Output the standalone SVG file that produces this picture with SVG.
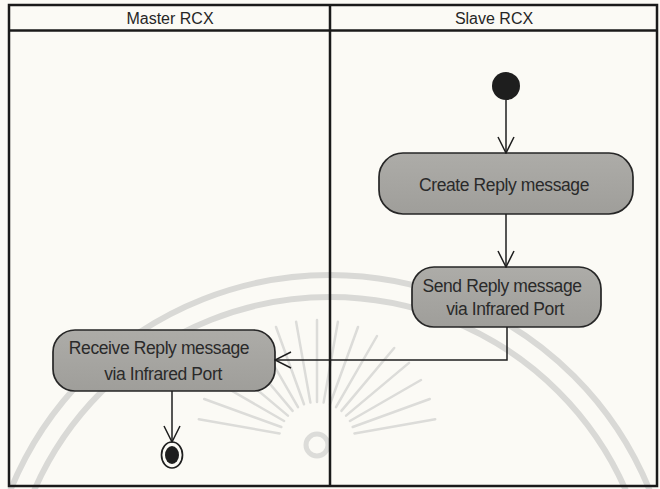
<svg xmlns="http://www.w3.org/2000/svg" width="660" height="489" viewBox="0 0 660 489">
<defs>
<style>
.lane{fill:none;stroke:#1a1a1a;stroke-width:2.5}
.hdr{font-family:"Liberation Sans",Arial,sans-serif;font-size:16px;fill:#262626;text-anchor:middle}
.act{fill:url(#g);stroke:#262626;stroke-width:1.7}
.lbl{font-family:"Liberation Sans",Arial,sans-serif;font-size:17.5px;fill:#2a2a2a;text-anchor:middle;letter-spacing:-0.4px}
.con{fill:none;stroke:#1e1e1e;stroke-width:1.5}
.wm{fill:none;stroke:#d9d9d6;stroke-width:6}
.ray{stroke:#dcdcd9;stroke-width:2.5;stroke-linecap:round}
</style>
<linearGradient id="g" x1="0" y1="0" x2="0" y2="1">
<stop offset="0" stop-color="#adaca8"/>
<stop offset="1" stop-color="#9f9e9a"/>
</linearGradient>
<marker id="open" viewBox="0 0 20 20" refX="19" refY="10" markerWidth="20" markerHeight="20" markerUnits="userSpaceOnUse" orient="auto">
<path d="M3,2 L19,10 L3,18" fill="none" stroke="#1e1e1e" stroke-width="1.5"/>
</marker>
</defs>
<rect width="660" height="489" fill="#fbfaf5"/>
<g id="watermark">
<circle cx="330" cy="620" r="345" class="wm"/>
<circle cx="330" cy="620" r="323" class="wm"/>
<g class="ray">
<line x1="279.6" y1="433.4" x2="198.8" y2="419.2"/>
<line x1="281.3" y1="427" x2="204.2" y2="399"/>
<line x1="284.1" y1="421" x2="213" y2="380"/>
<line x1="287.9" y1="415.6" x2="225" y2="362.9"/>
<line x1="292.6" y1="410.9" x2="239.8" y2="348"/>
<line x1="298" y1="407.1" x2="257" y2="336"/>
<line x1="304" y1="404.3" x2="276" y2="327"/>
<line x1="310.4" y1="402.6" x2="296.1" y2="321.8"/>
<line x1="317" y1="402" x2="317" y2="320"/>
<line x1="323.6" y1="402.6" x2="337.9" y2="321.8"/>
<line x1="330" y1="404.3" x2="358" y2="327"/>
<line x1="336" y1="407.1" x2="377" y2="336"/>
<line x1="341.4" y1="410.9" x2="394.2" y2="348"/>
<line x1="346.1" y1="415.6" x2="409" y2="362.9"/>
<line x1="349.9" y1="421" x2="421" y2="380"/>
<line x1="352.7" y1="427" x2="429.8" y2="399"/>
<line x1="354.4" y1="433.4" x2="435.2" y2="419.2"/>
</g>
<circle cx="317" cy="445" r="11" fill="none" stroke="#dcdcd9" stroke-width="5"/>
</g>
<g id="swimlanes">
<rect x="9" y="5" width="648" height="481" class="lane"/>
<line x1="9" y1="30.5" x2="657" y2="30.5" class="lane" stroke-width="3"/>
<line x1="330" y1="5" x2="330" y2="486" class="lane"/>
<text x="170" y="24" class="hdr">Master RCX</text>
<text x="494" y="24" class="hdr">Slave RCX</text>
</g>
<g id="start"><circle cx="506" cy="86" r="14" fill="#1e1e1e"/></g>
<g id="create">
<rect x="379" y="153" width="254" height="61" rx="24" class="act"/>
<text x="504" y="191" class="lbl">Create Reply message</text>
</g>
<g id="send">
<rect x="412" y="267" width="189" height="60" rx="22" class="act"/>
<text x="502" y="292" class="lbl">Send Reply message</text>
<text x="505" y="315" class="lbl">via Infrared Port</text>
</g>
<g id="receive">
<rect x="53" y="330" width="222" height="61" rx="22" class="act"/>
<text x="159" y="354" class="lbl">Receive Reply message</text>
<text x="163" y="380" class="lbl">via Infrared Port</text>
</g>
<g id="end">
<ellipse cx="172" cy="455" rx="10.5" ry="13" fill="#fbfaf5" stroke="#1e1e1e" stroke-width="1.7"/>
<ellipse cx="172" cy="455" rx="7" ry="9" fill="#1e1e1e"/>
</g>
<g id="connectors">
<line x1="506" y1="100" x2="506" y2="153" class="con" marker-end="url(#open)"/>
<line x1="506" y1="214" x2="506" y2="267" class="con" marker-end="url(#open)"/>
<polyline points="507,327 507,360 275,360" class="con" marker-end="url(#open)"/>
<line x1="172" y1="391" x2="172" y2="442" class="con" marker-end="url(#open)"/>
</g>
</svg>
